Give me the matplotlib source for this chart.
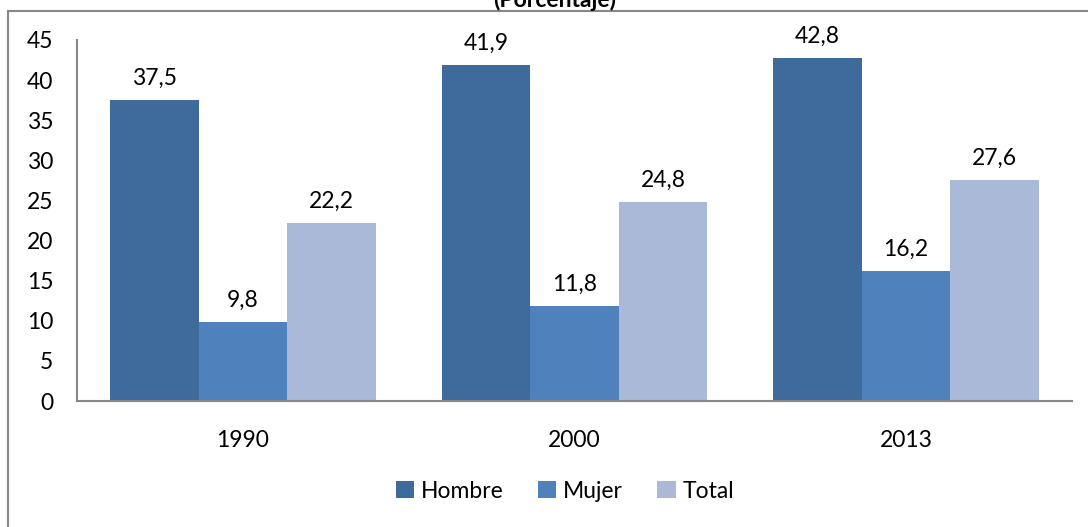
import matplotlib
matplotlib.use("Agg")
import matplotlib.pyplot as plt
from matplotlib.lines import Line2D
import numpy as np

years = ["1990", "2000", "2013"]
series_names = ["Hombre", "Mujer", "Total"]
hombre = [37.5, 41.9, 42.8]
mujer = [9.8, 11.8, 16.2]
total = [22.2, 24.8, 27.6]
value_labels = {
    "Hombre": ["37,5", "41,9", "42,8"],
    "Mujer": ["9,8", "11,8", "16,2"],
    "Total": ["22,2", "24,8", "27,6"],
}
yticks = [0, 5, 10, 15, 20, 25, 30, 35, 40, 45]
colors = ["#3F6A9C", "#4F81BD", "#AAB9D7"]

plt.rcParams["font.family"] = ["Lato", "DejaVu Sans"]
FS = 16.5

W, H = 1088, 527
fig = plt.figure(figsize=(W / 100, H / 100), dpi=100)
ax = fig.add_axes([77 / W, 1 - 401 / H, (1072 - 77) / W, (401 - 40) / H])

x = np.arange(len(years))
bw = 0.267
data = [hombre, mujer, total]
for i, (name, vals) in enumerate(zip(series_names, data)):
    pos = x + (i - 1) * bw
    bars = ax.bar(pos, vals, width=bw, color=colors[i], label=name, zorder=2)
    for b, lab in zip(bars, value_labels[name]):
        ax.annotate(lab, (b.get_x() + b.get_width() / 2, b.get_height()),
                    xytext=(0, 8), textcoords="offset points",
                    ha="center", va="bottom", fontsize=FS, color="#000000")

ax.set_xlim(-0.5, 2.5)
ax.set_ylim(0, 45)
ax.set_yticks(yticks)
ax.set_yticklabels([str(v) for v in yticks], fontsize=FS)
ax.set_xticks(x)
ax.set_xticklabels(years, fontsize=FS)
ax.tick_params(axis="y", length=0, pad=17)
ax.tick_params(axis="x", length=0, pad=21)
for s in ["top", "right"]:
    ax.spines[s].set_visible(False)
for s in ["left", "bottom"]:
    ax.spines[s].set_color("#888888")
    ax.spines[s].set_linewidth(1.5)

# outer chart border (partially cropped in the reference)
fig.add_artist(Line2D([8 / W, 8 / W], [0, 1 - 11 / H], transform=fig.transFigure,
                      color="#888888", lw=1.5))
fig.add_artist(Line2D([8 / W, 1], [1 - 11 / H, 1 - 11 / H], transform=fig.transFigure,
                      color="#888888", lw=1.5))

# title, cropped at the top edge as in the reference
fig.text(555 / W, 1 - 7 / H, "(Porcentaje)", ha="center", va="baseline",
         fontsize=FS, fontweight="bold")

ax.legend(loc="center", bbox_to_anchor=(565 / W, 1 - 491 / H),
          bbox_transform=fig.transFigure, ncol=3, frameon=False,
          fontsize=FS, handlelength=0.8, handleheight=0.8,
          handletextpad=0.3, columnspacing=1.5)

fig.savefig("out.png", dpi=100)
